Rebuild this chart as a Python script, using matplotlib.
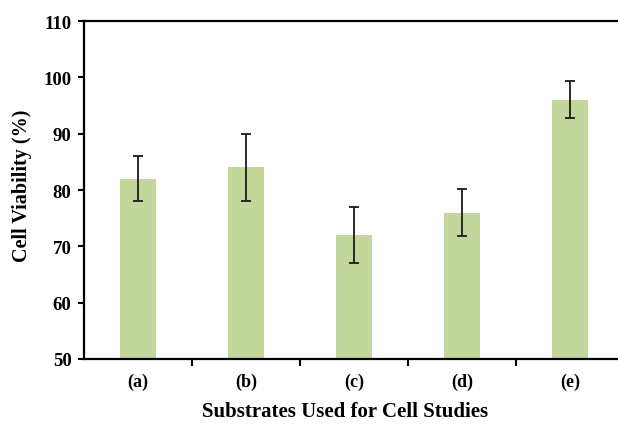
import matplotlib.pyplot as plt

categories = ['(a)', '(b)', '(c)', '(d)', '(e)']
viability = [82, 84, 72, 76, 96]
errors = [4, 6, 4.9, 4.2, 3.3]

plt.rcParams['font.family'] = 'Liberation Serif'
plt.rcParams['font.weight'] = 'bold'

fig = plt.figure(figsize=(6.18, 4.27), dpi=100)
ax = fig.add_axes([84 / 618, 1 - 360 / 427, 540 / 618, 338 / 427])

x = range(len(categories))
ax.bar(x, viability, width=0.33, color='#c3d69b')
ax.errorbar(x, viability, yerr=errors, fmt='none', ecolor='#1a1a1a',
            elinewidth=1.3, capsize=3.5, capthick=1.3)

ax.set_xlim(-0.5, 4.5)
ax.set_ylim(50, 110)
ax.set_yticks(range(50, 111, 10))
ax.set_xticks([i + 0.5 for i in range(4)])
ax.set_xticklabels([])
ax.tick_params(axis='x', direction='out', length=5, width=1.5)
ax.tick_params(axis='y', direction='out', length=4, width=1.5, labelsize=13.5, pad=5)
for i, c in enumerate(categories):
    ax.text(i, 47.6, c, ha='center', va='top', fontsize=13, fontweight='bold')

for s in ['left', 'bottom', 'top']:
    ax.spines[s].set_linewidth(1.6)
ax.spines['right'].set_visible(False)

fig.text(22 / 618, 1 - 186 / 427, 'Cell Viability (%)', rotation=90,
         ha='center', va='center', fontsize=14.5, fontweight='bold')
fig.text(345 / 618, 1 - 412 / 427, 'Substrates Used for Cell Studies',
         ha='center', va='center', fontsize=15, fontweight='bold')

fig.savefig('out.png', dpi=100)
